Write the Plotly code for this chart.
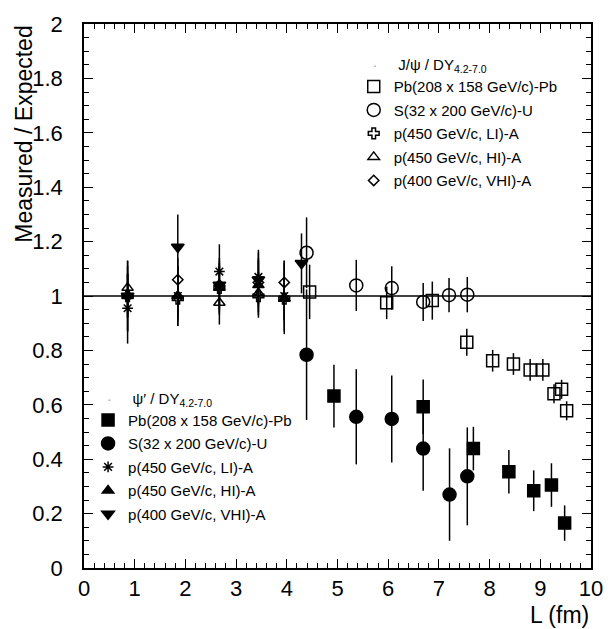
import plotly.graph_objects as go

# J/psi / DY (open markers)
jpsi_pb_x = [4.45, 5.97, 6.87, 7.55, 8.06, 8.47, 8.80, 9.05, 9.27, 9.42, 9.52]
jpsi_pb_y = [1.015, 0.975, 0.983, 0.83, 0.762, 0.75, 0.728, 0.728, 0.641, 0.657, 0.578]
jpsi_pb_e = [0.10, 0.06, 0.07, 0.05, 0.04, 0.04, 0.04, 0.04, 0.035, 0.035, 0.035]

jpsi_su_x = [4.39, 5.37, 6.07, 6.69, 7.20, 7.56]
jpsi_su_y = [1.159, 1.039, 1.029, 0.978, 1.003, 1.005]
jpsi_su_e = [0.13, 0.094, 0.08, 0.07, 0.063, 0.065]

pa_x = [0.86, 1.85, 2.67, 3.44, 3.95]
jpsi_li_y = [1.00, 0.99, 1.03, 1.00, 0.99]
jpsi_hi_y = [1.03, 1.00, 0.975, 1.01, 0.99]
jpsi_vhi_y = [1.00, 1.06, 1.04, 1.05, 1.05]
jpsi_pa_e = [0.08, 0.08, 0.08, 0.08, 0.08]

# psi' / DY (filled markers)
psi_pb_x = [4.93, 6.69, 7.68, 8.38, 8.87, 9.22, 9.48]
psi_pb_y = [0.632, 0.593, 0.439, 0.354, 0.284, 0.305, 0.165]
psi_pb_e = [0.115, 0.10, 0.08, 0.08, 0.075, 0.08, 0.065]

psi_su_x = [4.39, 5.37, 6.07, 6.69, 7.21, 7.56]
psi_su_y = [0.784, 0.556, 0.548, 0.439, 0.270, 0.337]
psi_su_e = [0.24, 0.175, 0.16, 0.155, 0.17, 0.18]

psi_li_y = [0.955, 1.00, 1.09, 1.07, 1.00]
psi_hi_y = [1.00, 1.00, 1.03, 1.04, 0.99]
psi_pa_e = [0.13, 0.11, 0.10, 0.10, 0.13]

psi_vhi_x = [0.86, 1.85, 2.67, 3.44, 4.29]
psi_vhi_y = [1.00, 1.18, 1.04, 1.06, 1.12]
psi_vhi_e = [0.13, 0.12, 0.10, 0.10, 0.11]

labels = ["Pb(208 x 158 GeV/c)-Pb", "S(32 x 200 GeV/c)-U", "p(450 GeV/c, LI)-A",
          "p(450 GeV/c, HI)-A", "p(400 GeV/c, VHI)-A"]


def series(x, y, e, sym, size, name, leg):
    return go.Scatter(
        x=x, y=y, mode="markers", name=name, legend=leg, legendgroup=leg + name,
        marker=dict(symbol=sym, size=size, color="black",
                    line=dict(color="black", width=1.5)),
        error_y=dict(type="data", array=e, width=0, thickness=1.5, color="black"),
    )


fig = go.Figure()
fig.add_trace(series(jpsi_pb_x, jpsi_pb_y, jpsi_pb_e, "square-open", 12, labels[0], "legend"))
fig.add_trace(series(jpsi_su_x, jpsi_su_y, jpsi_su_e, "circle-open", 13, labels[1], "legend"))
fig.add_trace(series(pa_x, jpsi_li_y, jpsi_pa_e, "cross-open", 9, labels[2], "legend"))
fig.add_trace(series(pa_x, jpsi_hi_y, jpsi_pa_e, "triangle-up-open", 10, labels[3], "legend"))
fig.add_trace(series(pa_x, jpsi_vhi_y, jpsi_pa_e, "diamond-open", 8, labels[4], "legend"))

fig.add_trace(series(psi_pb_x, psi_pb_y, psi_pb_e, "square", 12, labels[0], "legend2"))
fig.add_trace(series(psi_su_x, psi_su_y, psi_su_e, "circle", 13, labels[1], "legend2"))
fig.add_trace(series(pa_x, psi_li_y, psi_pa_e, "asterisk-open", 9, labels[2], "legend2"))
fig.add_trace(series(pa_x, psi_hi_y, psi_pa_e, "triangle-up", 10, labels[3], "legend2"))
fig.add_trace(series(psi_vhi_x, psi_vhi_y, psi_vhi_e, "triangle-down", 11, labels[4], "legend2"))

fig.add_hline(y=1, line=dict(color="black", width=1.5))

axis_common = dict(showline=True, linecolor="black", linewidth=1.5, mirror="allticks",
                   ticks="inside", ticklen=9, tickcolor="black", tickwidth=1,
                   showgrid=False, zeroline=False,
                   tickfont=dict(size=22, color="black"))

dot = "<span style='color:#aaaaaa'>·</span>"
pad = "\u00a0"
legend_style = dict(xanchor="left", yanchor="top", bgcolor="rgba(0,0,0,0)",
                    font=dict(size=15), traceorder="grouped", tracegroupgap=1)

fig.update_layout(
    width=615, height=629,
    margin=dict(l=84, r=14, t=17, b=61),
    plot_bgcolor="white", paper_bgcolor="white",
    font=dict(family="Liberation Sans, Arial, sans-serif", color="black"),
    xaxis=dict(range=[0, 10], dtick=1, tick0=0,
               minor=dict(dtick=0.2, ticks="inside", ticklen=5, tickcolor="black"),
               **axis_common),
    yaxis=dict(range=[0, 2], dtick=0.2, tick0=0, ticklabelstandoff=15,
               minor=dict(dtick=0.05, ticks="inside", ticklen=5, tickcolor="black"),
               **axis_common),
    legend=dict(x=0.532, y=0.951,
                title=dict(text=pad * 4 + dot + pad * 5 + "J/ψ / DY<sub>4.2-7.0</sub>",
                           font=dict(size=15)),
                **legend_style),
    legend2=dict(x=0.008, y=0.338,
                 title=dict(text=pad * 4 + dot + pad * 5 + "ψ′ / DY<sub>4.2-7.0</sub>",
                            font=dict(size=15)),
                 **legend_style),
    showlegend=True,
)

fig.add_annotation(text="Measured / Expected", textangle=-90, xref="paper", yref="paper",
                   x=-0.12, y=1.0, xanchor="center", yanchor="top", showarrow=False,
                   font=dict(size=23))
fig.add_annotation(text="L (fm)", xref="paper", yref="paper", x=1.0, y=-0.058,
                   xanchor="right", yanchor="top", showarrow=False, font=dict(size=23))

fig.write_html("out.html", config={"displayModeBar": False},
               post_script="document.body.style.margin='0';")
